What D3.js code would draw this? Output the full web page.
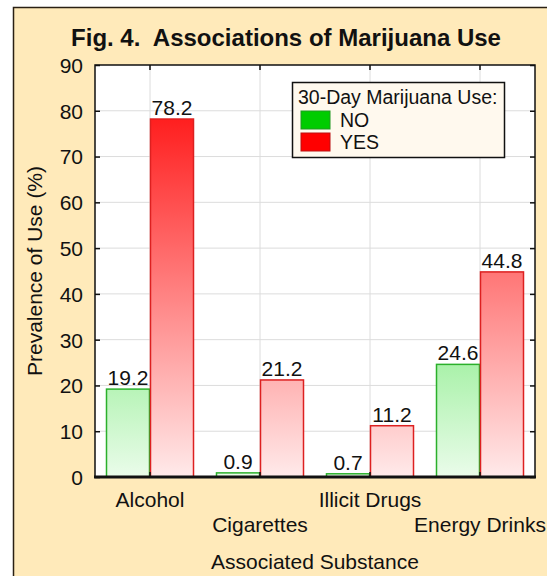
<!DOCTYPE html>
<html>
<head>
<meta charset="utf-8">
<script src="https://cdn.jsdelivr.net/npm/d3@7/dist/d3.min.js"></script>
<style>
  body { margin: 0; background: #fff; }
  text { font-family: "Liberation Sans", Arial, sans-serif; fill: #111; }
</style>
</head>
<body>
<div id="viz"></div>
<script>
var categories = ["Alcohol", "Cigarettes", "Illicit Drugs", "Energy Drinks"];
var groups = ["NO", "YES"];
var noValues = [19.2, 0.9, 0.7, 24.6];
var yesValues = [78.2, 21.2, 11.2, 44.8];
var yTicks = [0, 10, 20, 30, 40, 50, 60, 70, 80, 90];

var width = 547, height = 576;
var pLeft = 95, pRight = 535, pTop = 65, pBottom = 477;

var svg = d3.select("#viz")
    .append("svg")
    .attr("width", width)
    .attr("height", height);

// background panel
svg.append("rect")
    .attr("x", 13.5).attr("y", 7.5)
    .attr("width", width).attr("height", height)
    .style("fill", "#ffeaba")
    .style("stroke", "#2a2014")
    .style("stroke-width", 1.5);

var x = d3.scaleBand().domain(categories).range([pLeft, pRight]);
var xSub = d3.scaleBand().domain(groups).range([0, x.bandwidth()]).paddingOuter(0.25);
var y = d3.scaleLinear().domain([0, 90]).range([pBottom, pTop]);

var defs = svg.append("defs");
function grad(id, c0, c1) {
    var g = defs.append("linearGradient").attr("id", id)
        .attr("gradientUnits", "userSpaceOnUse")
        .attr("x1", 0).attr("x2", 0)
        .attr("y1", y(0)).attr("y2", y(90));
    g.append("stop").attr("offset", 0).attr("stop-color", c0);
    g.append("stop").attr("offset", 1).attr("stop-color", c1);
}
grad("gNO", "rgb(234,252,234)", "rgb(0,214,0)");
grad("gYES", "rgb(255,234,234)", "rgb(255,0,0)");

// plot area
svg.append("rect")
    .attr("x", pLeft).attr("y", pTop)
    .attr("width", pRight - pLeft).attr("height", pBottom - pTop)
    .style("fill", "#fff");

// grid
svg.append("g").selectAll("line")
    .data(yTicks.slice(1, -1))
    .enter().append("line")
    .attr("x1", pLeft).attr("x2", pRight)
    .attr("y1", function(d) { return y(d); })
    .attr("y2", function(d) { return y(d); })
    .style("stroke", "#dcdcdc");

svg.append("g").selectAll("line")
    .data(categories)
    .enter().append("line")
    .attr("x1", function(d) { return x(d) + x.bandwidth() / 2; })
    .attr("x2", function(d) { return x(d) + x.bandwidth() / 2; })
    .attr("y1", pTop).attr("y2", pBottom)
    .style("stroke", "#dcdcdc");

// bars
var rows = categories.map(function(c, i) {
    return { cat: c, vals: [{ g: "NO", v: noValues[i] }, { g: "YES", v: yesValues[i] }] };
});
var strokes = { NO: "#2bb02b", YES: "#dd2020" };

var grp = svg.append("g").selectAll("g")
    .data(rows)
    .enter().append("g")
    .attr("transform", function(d) { return "translate(" + x(d.cat) + ",0)"; });

grp.selectAll("rect")
    .data(function(d) { return d.vals; })
    .enter().append("rect")
    .attr("x", function(d) { return xSub(d.g) + 0.5; })
    .attr("width", xSub.bandwidth() - 1)
    .attr("y", function(d) { return y(d.v); })
    .attr("height", function(d) { return y(0) - y(d.v); })
    .style("fill", function(d) { return "url(#g" + d.g + ")"; })
    .style("stroke", function(d) { return strokes[d.g]; })
    .style("stroke-width", 1.5);

grp.selectAll("text")
    .data(function(d) { return d.vals; })
    .enter().append("text")
    .attr("x", function(d) { return xSub(d.g) + xSub.bandwidth() / 2; })
    .attr("y", function(d) { return y(d.v) - 4; })
    .attr("text-anchor", "middle")
    .style("font-size", "21px")
    .text(function(d) { return d.v.toFixed(1); });

// axes
var yAxis = d3.axisLeft(y).tickValues(yTicks).tickSize(-5).tickPadding(12);
var gy = svg.append("g").attr("transform", "translate(" + pLeft + ",0)").call(yAxis);
gy.selectAll("text").style("font-size", "21px").attr("dy", "0.35em");
gy.select(".domain").remove();

var gyr = svg.append("g").attr("transform", "translate(" + pRight + ",0)")
    .call(d3.axisRight(y).tickValues(yTicks).tickSize(-5).tickFormat(""));
gyr.select(".domain").remove();

var gxt = svg.append("g").attr("transform", "translate(0," + pTop + ")")
    .call(d3.axisTop(x).tickSize(-5).tickFormat(""));
gxt.select(".domain").remove();

var gx = svg.append("g").attr("transform", "translate(0," + pBottom + ")")
    .call(d3.axisBottom(x).tickSize(-5).tickPadding(0));
gx.select(".domain").remove();
gx.selectAll("text")
    .style("font-size", "21px")
    .attr("dy", null)
    .attr("y", function(d, i) { return i % 2 === 0 ? 30 : 55; });

svg.selectAll(".tick line").style("stroke", "#111").style("stroke-width", 1.5);

// frame
svg.append("rect")
    .attr("x", pLeft).attr("y", pTop)
    .attr("width", pRight - pLeft).attr("height", pBottom - pTop)
    .style("fill", "none")
    .style("stroke", "#111")
    .style("stroke-width", 1.5);
svg.append("line")
    .attr("x1", pLeft - 1).attr("x2", pRight + 1)
    .attr("y1", pBottom).attr("y2", pBottom)
    .style("stroke", "#111").style("stroke-width", 3);

// titles
svg.append("text")
    .attr("x", 286).attr("y", 46)
    .attr("text-anchor", "middle")
    .style("font-size", "24px").style("font-weight", "bold")
    .style("white-space", "pre")
    .text("Fig. 4.  Associations of Marijuana Use");

svg.append("text")
    .attr("x", (pLeft + pRight) / 2).attr("y", 569)
    .attr("text-anchor", "middle")
    .style("font-size", "21px")
    .text("Associated Substance");

svg.append("text")
    .attr("transform", "translate(42," + ((pTop + pBottom) / 2) + ") rotate(-90)")
    .attr("text-anchor", "middle")
    .style("font-size", "21px")
    .text("Prevalence of Use (%)");

// legend
var lg = svg.append("g").attr("transform", "translate(292,82)");
lg.append("rect")
    .attr("x", 0.5).attr("y", 0.5)
    .attr("width", 212).attr("height", 75)
    .style("fill", "#fff9ee")
    .style("stroke", "#111")
    .style("stroke-width", 1.5);
lg.append("text").attr("x", 6).attr("y", 22)
    .style("font-size", "19.5px")
    .text("30-Day Marijuana Use:");
var swatch = { NO: "#00cc00", YES: "#ff0000" };
var items = lg.selectAll("g.item")
    .data(groups)
    .enter().append("g")
    .attr("class", "item")
    .attr("transform", function(d, i) { return "translate(9," + (29 + i * 22) + ")"; });
items.append("rect")
    .attr("width", 29).attr("height", 18)
    .style("fill", function(d) { return swatch[d]; })
    .style("stroke", function(d) { return d === "NO" ? "#229922" : "#bb1111"; });
items.append("text")
    .attr("x", 39).attr("y", 16)
    .style("font-size", "19.5px")
    .text(function(d) { return d; });
</script>
</body>
</html>
